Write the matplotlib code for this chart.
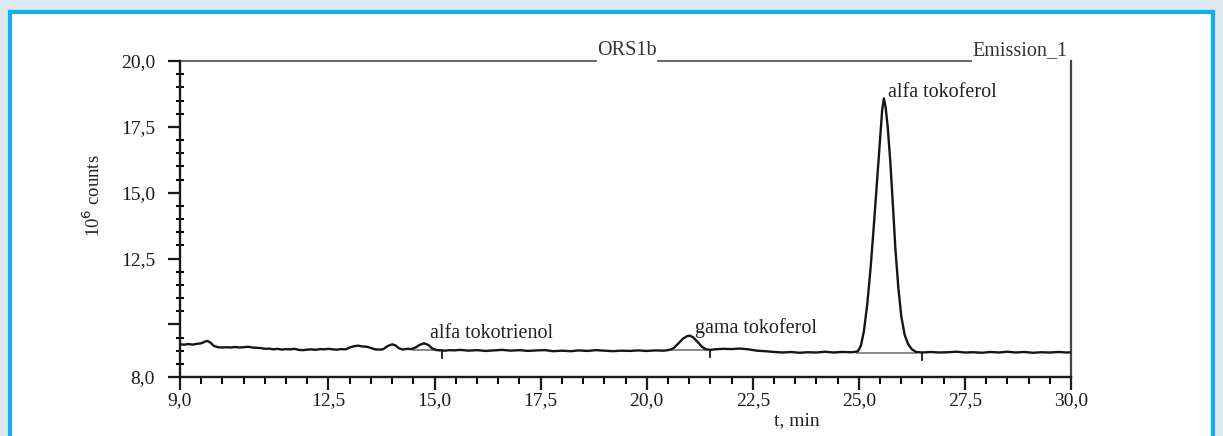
import matplotlib
matplotlib.use('Agg')
import matplotlib.pyplot as plt
from matplotlib.patches import Rectangle
from matplotlib.ticker import MultipleLocator

plt.rcParams['font.family'] = ['Liberation Serif', 'DejaVu Serif']

# Chromatogram trace (t in min, signal in 10^6 counts)
t_min = [9.00, 9.10, 9.20, 9.30, 9.40, 9.50, 9.60, 9.65, 9.72, 9.80, 9.90,
         10.00, 10.10, 10.20, 10.30, 10.40, 10.50, 10.60, 10.70, 10.80, 10.90,
         11.00, 11.10, 11.20, 11.30, 11.40, 11.50, 11.60, 11.70, 11.80, 11.90,
         12.00, 12.10, 12.20, 12.30, 12.40, 12.50, 12.60, 12.70, 12.80, 12.90,
         13.00, 13.10, 13.20, 13.30, 13.40, 13.50, 13.60, 13.70, 13.78, 13.90,
         14.00, 14.08, 14.15, 14.25, 14.35, 14.45, 14.55, 14.65, 14.75, 14.85,
         14.95, 15.05, 15.15, 15.25, 15.35, 15.45, 15.60, 15.80, 16.00, 16.20,
         16.40, 16.60, 16.80, 17.00, 17.20, 17.40, 17.60, 17.80, 18.00, 18.20,
         18.40, 18.60, 18.80, 19.00, 19.20, 19.40, 19.60, 19.80, 20.00, 20.20,
         20.40, 20.50, 20.58, 20.65, 20.75, 20.85, 20.95, 21.02, 21.10, 21.20,
         21.30, 21.40, 21.50, 21.60, 21.80, 22.00, 22.20, 22.40, 22.60, 22.80,
         23.00, 23.20, 23.40, 23.60, 23.80, 24.00, 24.20, 24.40, 24.60, 24.80,
         24.90, 24.98, 25.05, 25.12, 25.20, 25.28, 25.36, 25.44, 25.50, 25.55,
         25.59, 25.63, 25.68, 25.74, 25.80, 25.86, 25.93, 26.00, 26.08, 26.16,
         26.25, 26.35, 26.50, 26.70, 26.90, 27.10, 27.30, 27.50, 27.70, 27.90,
         28.10, 28.30, 28.50, 28.70, 28.90, 29.10, 29.30, 29.50, 29.70, 29.90,
         30.00]
counts = [9.24, 9.23, 9.25, 9.23, 9.26, 9.28, 9.35, 9.37, 9.30, 9.18, 9.13,
          9.12, 9.13, 9.12, 9.14, 9.12, 9.13, 9.15, 9.12, 9.11, 9.10,
          9.07, 9.08, 9.05, 9.07, 9.04, 9.06, 9.05, 9.07, 9.03, 9.02,
          9.04, 9.05, 9.03, 9.06, 9.05, 9.07, 9.05, 9.04, 9.06, 9.05,
          9.12, 9.17, 9.19, 9.16, 9.15, 9.10, 9.05, 9.04, 9.05, 9.18,
          9.24, 9.20, 9.10, 9.04, 9.07, 9.06, 9.12, 9.22, 9.28, 9.22,
          9.08, 9.02, 9.01, 9.00, 9.02, 9.01, 9.03, 9.00, 9.02, 8.99,
          9.01, 9.03, 9.00, 9.02, 8.99, 9.01, 9.02, 8.98, 9.00, 8.98,
          9.01, 8.99, 9.02, 9.00, 8.98, 9.00, 8.99, 9.01, 8.99, 9.01,
          9.00, 9.02, 9.05, 9.12, 9.28, 9.45, 9.55, 9.57, 9.50, 9.33,
          9.15, 9.05, 9.03, 9.05, 9.07, 9.06, 9.08, 9.05, 9.00, 8.98,
          8.95, 8.93, 8.95, 8.92, 8.94, 8.93, 8.96, 8.93, 8.95, 8.94,
          8.95, 8.98, 9.20, 9.75, 10.80, 12.20, 13.90, 15.70, 17.10, 18.15,
          18.58, 18.25, 17.50, 16.20, 14.60, 12.90, 11.40, 10.30, 9.60, 9.25,
          9.05, 8.95, 8.93, 8.95, 8.93, 8.94, 8.96, 8.93, 8.94, 8.92,
          8.95, 8.93, 8.96, 8.93, 8.95, 8.92, 8.94, 8.93, 8.95, 8.93,
          8.94]

# Peak labels and where they sit (t, counts)
peak_names = ['alfa tokotrienol', 'gama tokoferol', 'alfa tokoferol']
label_t = [14.89, 21.14, 25.69]
label_c = [9.50, 9.68, 18.64]

# integration baselines under the peaks: start t, end t, level
base_start = [14.50, 20.59, 24.95]
base_end = [15.10, 21.37, 26.35]
base_level = [9.04, 9.03, 8.92]
# end-of-peak markers
mark_t = [15.17, 21.49, 26.49]
mark_c = [9.02, 9.04, 8.93]

y_ticks = [8.0, 10.0, 12.5, 15.0, 17.5, 20.0]
y_labels = ['8,0', '', '12,5', '15,0', '17,5', '20,0']
x_ticks = [9.0, 12.5, 15.0, 17.5, 20.0, 22.5, 25.0, 27.5, 30.0]
x_labels = ['9,0', '12,5', '15,0', '17,5', '20,0', '22,5', '25,0', '27,5', '30,0']

fig = plt.figure(figsize=(12.23, 4.36), dpi=100)
fig.patch.set_facecolor('#dde7ef')
# white panel with the blue frame
fig.patches.append(Rectangle((9.5 / 1223, -0.05), (1213 - 9.5) / 1223, 1.05 - 12 / 436,
                             transform=fig.transFigure, facecolor='white',
                             edgecolor='#12aeea', linewidth=3, zorder=-1))

ax = fig.add_axes([180 / 1223, 59 / 436, 891 / 1223, 316 / 436])
ax.set_zorder(2)
ax.set_facecolor('none')

ax.plot(t_min, counts, color='#151515', lw=1.7, zorder=3)
for s, e, lv in zip(base_start, base_end, base_level):
    ax.plot([s, e], [lv, lv], color='#8a8a8a', lw=1.4, zorder=2)
for mt, mc in zip(mark_t, mark_c):
    ax.plot([mt, mt], [mc, mc - 0.28], color='#1a1a1a', lw=1.3, zorder=3)

for name, lt, lc in zip(peak_names, label_t, label_c):
    ax.text(lt, lc, name, fontsize=14.5, ha='left', va='baseline', color='#222222')

ax.set_xlim(9, 30)
ax.set_ylim(8, 20)

ax.set_xticks(x_ticks)
ax.set_xticklabels(x_labels)
ax.set_yticks(y_ticks)
ax.set_yticklabels(y_labels)
ax.xaxis.set_minor_locator(MultipleLocator(0.5))
ax.yaxis.set_minor_locator(MultipleLocator(0.5))
ax.tick_params(axis='both', which='major', direction='out', length=9, width=1.6,
               labelsize=14, colors='#1a1a1a')
ax.tick_params(axis='y', which='major', pad=9)
ax.tick_params(axis='x', which='major', pad=2)
ax.tick_params(axis='x', which='minor', direction='out', length=5, width=1.4)
ax.tick_params(axis='y', which='minor', direction='inout', length=6, width=1.4)

for side in ['left', 'bottom']:
    ax.spines[side].set_linewidth(1.7)
    ax.spines[side].set_color('#1a1a1a')
ax.spines['right'].set_linewidth(1.6)
ax.spines['right'].set_color('#444444')
ax.spines['top'].set_visible(False)

# top rule broken by the two header texts
ax.plot([0, 0.467], [1, 1], color='#666666', lw=1.4, transform=ax.transAxes, clip_on=False)
ax.plot([0.537, 0.888], [1, 1], color='#666666', lw=1.4, transform=ax.transAxes, clip_on=False)
ax.text(0.502, 1.003, 'ORS1b', transform=ax.transAxes, ha='center', va='bottom',
        fontsize=14.5, color='#333333')
ax.text(0.996, 1.003, 'Emission_1', transform=ax.transAxes, ha='right', va='bottom',
        fontsize=14.5, color='#333333')

ax.set_xlabel('t, min', fontsize=14, color='#222222')
ax.xaxis.set_label_coords(0.692, -0.11)
ax.set_ylabel('10$^6$ counts', fontsize=13.5, color='#222222')
ax.yaxis.set_label_coords(-0.085, 0.575)

fig.savefig('out.png', dpi=100, facecolor=fig.get_facecolor())
